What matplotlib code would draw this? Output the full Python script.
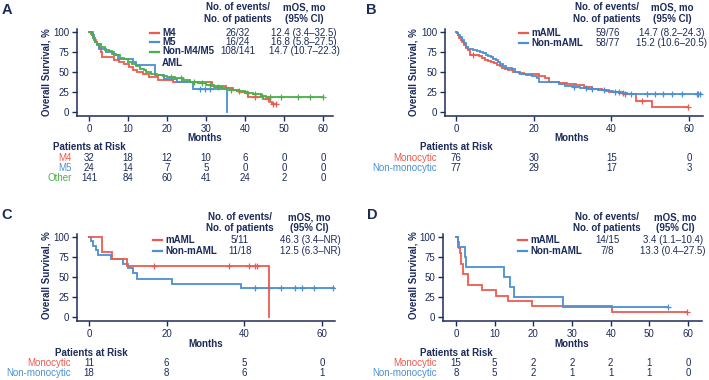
import numpy as np
import matplotlib
matplotlib.use('Agg')
import matplotlib.pyplot as plt
from matplotlib.lines import Line2D
from matplotlib.transforms import blended_transform_factory

plt.rcParams['font.family'] = ['Liberation Sans', 'DejaVu Sans']

W, H = 709, 380
NAVY = '#1C2B5A'
RED = '#EE5A50'
BLUE = '#4A90D2'
GREEN = '#4DAF4A'

# ---------------- Panel A data ----------------
a_m4_t = [0.5, 0.9, 1.3, 1.7, 2.1, 2.5, 3.0, 3.4, 6.3, 7.8, 9.0, 10.2, 11.4, 12.4, 13.8, 15.5,
          17.8, 21.5, 31.5, 35.0, 37.0, 38.5, 40.8, 44.5, 46.4, 46.8]
a_m4_s = [96.9, 93.8, 90.6, 87.5, 84.4, 81.3, 75.0, 68.8, 65.6, 62.5, 59.4, 56.3, 53.1, 50.0, 46.9, 43.8,
          40.6, 37.5, 33.0, 30.0, 27.0, 25.4, 19.0, 16.5, 13.0, 10.5]
a_m4_c = [42.5, 46.0, 47.3, 48.0]
a_m4_end = 48.0

a_m5_t = [0.7, 1.2, 1.6, 2.0, 2.6, 4.3, 6.3, 7.5, 11.4, 12.0, 16.8, 19.3, 22.5, 26.7, 35.3]
a_m5_s = [95.8, 91.7, 87.5, 83.3, 79.2, 75.0, 70.8, 66.7, 62.5, 58.3, 45.8, 41.7, 37.5, 29.2, 0.0]
a_m5_c = [28.5, 29.8, 31.0]
a_m5_end = 35.3

a_oth_t = [1.0, 1.5, 2.0, 3.0, 4.0, 5.0, 6.0, 7.0, 8.0, 9.0, 10.0, 11.0, 12.0, 13.0, 14.0, 14.7,
           16.0, 17.5, 19.0, 20.0, 22.0, 24.0, 26.0, 28.0, 30.0, 32.0, 34.0, 36.0, 38.0, 40.0,
           42.0, 44.0, 45.5]
a_oth_s = [93.0, 88.0, 85.0, 81.0, 78.0, 76.0, 73.0, 71.0, 68.0, 66.0, 63.0, 60.0, 57.0, 54.0, 52.0, 50.0,
           48.0, 46.0, 44.5, 43.5, 42.0, 40.0, 38.0, 36.0, 34.0, 31.5, 29.5, 27.5, 26.0, 24.0,
           22.0, 20.0, 18.2]
a_oth_c = [21.0, 23.5, 27.0, 29.0, 31.0, 33.0, 36.5, 38.5, 40.5, 42.6, 44.3, 46.4, 49.2, 53.5, 56.7, 59.9]
a_oth_end = 59.9

a_groups = ['M4', 'M5', 'Non-M4/M5']
a_events = ['26/32', '16/24', '108/141']
a_mos = ['12.4 (3.4\u201332.5)', '16.8 (5.8\u201327.5)', '14.7 (10.7\u201322.3)']
a_risk_labels = ['M4', 'M5', 'Other']
a_risk_x = [0, 10, 20, 30, 40, 50, 60]
a_risk = [[32, 18, 12, 10, 6, 0, 0],
          [24, 14, 7, 5, 0, 0, 0],
          [141, 84, 60, 41, 24, 2, 0]]

# ---------------- Panel B data ----------------
b_m_t = [0.3, 0.6, 0.9, 1.2, 1.6, 2.0, 2.5, 3.0, 3.6, 6.0, 6.8, 7.5, 8.3, 9.0, 9.8, 10.6, 11.3, 11.9,
         12.6, 13.5, 14.7, 16.2, 17.5, 21.5, 22.8, 24.0, 26.5, 28.5, 31.0, 33.0, 35.0, 37.5, 39.5,
         41.0, 43.0, 46.4, 50.4]
b_m_s = [98.7, 96.0, 93.0, 90.0, 87.0, 84.0, 80.0, 77.0, 71.0, 69.5, 67.0, 65.5, 64.0, 62.5, 61.0, 59.0,
         57.0, 55.5, 54.0, 52.5, 50.0, 48.5, 47.5, 45.5, 43.0, 38.0, 36.5, 35.0, 33.5, 31.5, 29.0,
         27.5, 25.5, 24.5, 23.0, 13.5, 6.7]
b_m_c = [4.3, 42.0, 43.5, 47.8, 59.8]
b_m_end = 59.8

b_n_t = [0.3, 0.6, 1.0, 1.5, 2.0, 2.5, 3.2, 4.5, 5.5, 6.3, 7.0, 7.6, 8.3, 9.0, 9.6, 10.2, 10.8, 11.4,
         12.2, 13.0, 14.3, 15.2, 16.5, 18.0, 19.5, 20.8, 21.5, 26.5, 28.0, 30.0, 32.0, 34.0, 36.5,
         38.5, 40.5, 42.0, 44.0]
b_n_s = [98.7, 96.1, 93.5, 89.6, 85.7, 81.8, 79.2, 77.9, 76.6, 75.3, 74.0, 71.4, 70.1, 68.8, 66.2, 64.9,
         62.3, 59.7, 57.1, 54.5, 53.2, 50.0, 48.1, 46.8, 45.5, 42.9, 37.7, 35.1, 32.5, 31.2, 29.9,
         28.6, 27.3, 26.0, 24.7, 23.4, 22.1]
b_n_c = [30.5, 33.5, 35.0, 38.0, 41.0, 43.0, 45.0, 49.1, 51.2, 53.4, 55.5, 58.1, 62.0, 62.4, 62.8]
b_n_end = 63.0

b_groups = ['mAML', 'Non-mAML']
b_events = ['59/76', '58/77']
b_mos = ['14.7 (8.2\u201324.3)', '15.2 (10.6\u201320.5)']
b_risk_labels = ['Monocytic', 'Non-monocytic']
b_risk_x = [0, 20, 40, 60]
b_risk = [[76, 30, 15, 0], [77, 29, 17, 3]]

# ---------------- Panel C data ----------------
c_m_t = [3.4, 5.9, 9.9, 46.3]
c_m_s = [81.8, 72.7, 63.6, 0.0]
c_m_c = [16.7, 36.1, 41.2, 42.7, 43.3]
c_m_end = 46.3

c_n_t = [0.5, 1.1, 1.7, 2.4, 5.7, 8.8, 10.1, 11.4, 12.3, 21.3, 39.1]
c_n_s = [94.4, 88.9, 83.3, 77.8, 72.2, 66.7, 61.1, 55.6, 47.9, 41.7, 35.9]
c_n_c = [42.7, 46.2, 49.4, 53.0, 54.8, 58.0, 62.9]
c_n_end = 63.0

c_events = ['5/11', '11/18']
c_mos = ['46.3 (3.4\u2013NR)', '12.5 (6.3\u2013NR)']
c_risk_x = [0, 20, 40, 60]
c_risk = [[11, 6, 5, 0], [18, 8, 6, 1]]

# ---------------- Panel D data ----------------
d_m_t = [0.6, 0.9, 1.0, 1.2, 1.4, 1.7, 1.9, 3.2, 6.6, 10.3, 13.5, 19.6, 40.3]
d_m_s = [93.3, 86.7, 80.0, 73.3, 66.7, 60.0, 53.3, 40.0, 33.3, 26.7, 20.0, 13.3, 6.7]
d_m_c = [59.7]
d_m_end = 59.7

d_n_t = [0.4, 2.2, 2.6, 12.3, 14.0, 15.0, 27.6]
d_n_s = [87.5, 75.0, 62.5, 50.0, 37.5, 25.0, 12.5]
d_n_c = [54.8]
d_n_end = 54.8

d_events = ['14/15', '7/8']
d_mos = ['3.4 (1.1\u201310.4)', '13.3 (0.4\u201327.5)']
d_risk_x = [0, 10, 20, 30, 40, 50, 60]
d_risk = [[15, 5, 2, 2, 2, 1, 0], [8, 5, 2, 1, 1, 1, 0]]

yticks = [0, 25, 50, 75, 100]

# ---------------- drawing ----------------
fig = plt.figure(figsize=(W / 100, H / 100), dpi=100)


def fx(x):
    return x / W


def fy(y):
    return 1 - y / H


def T(x, y, s, **kw):
    kw.setdefault('color', NAVY)
    kw.setdefault('fontsize', 7)
    kw.setdefault('va', 'center')
    fig.text(fx(x), fy(y), s, **kw)


def make_ax(l, r, t, b, xlim, xticks):
    ax = fig.add_axes([fx(l), fy(b), (r - l) / W, (b - t) / H])
    ax.set_xlim(*xlim)
    ax.set_ylim(-5, 103.75)
    ax.set_xticks(xticks)
    ax.set_yticks(yticks)
    for sp in ['top', 'right']:
        ax.spines[sp].set_visible(False)
    for sp in ['left', 'bottom']:
        ax.spines[sp].set_color(NAVY)
        ax.spines[sp].set_linewidth(1.1)
    ax.tick_params(direction='out', length=3.5, width=1.0, colors=NAVY, labelsize=7, pad=2)
    ax.patch.set_alpha(0)
    return ax


def km(ax, t, s, cens, end, color, z=2):
    tt = [0] + list(t) + [end]
    ss = [100] + list(s) + [s[-1]]
    ax.step(tt, ss, where='post', color=color, lw=1.3, zorder=z, solid_joinstyle='miter')
    st = np.array([0] + list(t))
    sv = np.array([100] + list(s))
    idx = np.searchsorted(st, np.array(cens), side='right') - 1
    ax.plot(cens, sv[idx], ls='none', marker='+', ms=5, mew=0.9, color=color, zorder=z)


def legend_line(x1, x2, y, color):
    fig.add_artist(Line2D([fx(x1), fx(x2)], [fy(y), fy(y)], transform=fig.transFigure,
                          color=color, lw=1.6))


def risk_row(ax, xs, vals, y, color=NAVY):
    tr = blended_transform_factory(ax.transData, fig.transFigure)
    for xv, v in zip(xs, vals):
        ax.text(xv, fy(y), str(v), transform=tr, ha='center', va='center', fontsize=7,
                color=color, clip_on=False)


# ---------- Panel A ----------
axA = make_ax(77, 333, 29, 116, (-3.08, 62.56), [0, 10, 20, 30, 40, 50, 60])
km(axA, a_m4_t, a_m4_s, a_m4_c, a_m4_end, RED, 2)
km(axA, a_m5_t, a_m5_s, a_m5_c, a_m5_end, BLUE, 3)
km(axA, a_oth_t, a_oth_s, a_oth_c, a_oth_end, GREEN, 4)
T(7, 10, 'A', fontsize=10.5, fontweight='bold', ha='center')
T(238, 7.5, 'No. of events/', fontweight='bold', ha='center')
T(238, 18.5, 'No. of patients', fontweight='bold', ha='center')
T(304, 7.5, 'mOS, mo', fontweight='bold', ha='center')
T(304, 18.5, '(95% CI)', fontweight='bold', ha='center')
for i, (g, c, yy) in enumerate(zip(a_groups, [RED, BLUE, GREEN], [32.5, 42, 51.5])):
    legend_line(150, 159, yy, c)
    T(162, yy, g, fontweight='bold')
    T(238, yy, a_events[i], ha='center')
    T(304, yy, a_mos[i], ha='center')
T(162, 62.5, 'AML', fontweight='bold')
T(47, 72, 'Overall Survival, %', fontweight='bold', rotation=90, ha='center')
T(205, 138, 'Months', fontweight='bold', ha='center')
T(53, 147.5, 'Patients at Risk', fontweight='bold')
for lab, c, vals, yy in zip(a_risk_labels, [RED, BLUE, GREEN], a_risk, [158, 168, 178]):
    T(72, yy, lab, color=c, ha='right')
    risk_row(axA, a_risk_x, vals, yy)

# ---------- Panel B ----------
axB = make_ax(445, 703, 29, 116, (-2.83, 63.6), [0, 20, 40, 60])
km(axB, b_m_t, b_m_s, b_m_c, b_m_end, RED, 2)
km(axB, b_n_t, b_n_s, b_n_c, b_n_end, BLUE, 3)
T(371, 10, 'B', fontsize=10.5, fontweight='bold', ha='center')
T(607, 7.5, 'No. of events/', fontweight='bold', ha='center')
T(607, 18.5, 'No. of patients', fontweight='bold', ha='center')
T(672, 7.5, 'mOS, mo', fontweight='bold', ha='center')
T(672, 18.5, '(95% CI)', fontweight='bold', ha='center')
for i, (g, c, yy) in enumerate(zip(b_groups, [RED, BLUE], [32.5, 43])):
    legend_line(519, 528, yy, c)
    T(531, yy, g, fontweight='bold')
    T(608, yy, b_events[i], ha='center')
    T(672, yy, b_mos[i], ha='center')
T(413, 72, 'Overall Survival, %', fontweight='bold', rotation=90, ha='center')
T(572, 138, 'Months', fontweight='bold', ha='center')
T(420, 147.5, 'Patients at Risk', fontweight='bold')
for lab, c, vals, yy in zip(b_risk_labels, [RED, BLUE], b_risk, [158, 168]):
    T(437, yy, lab, color=c, ha='right')
    risk_row(axB, b_risk_x, vals, yy)

# ---------- Panel C ----------
axC = make_ax(77, 335, 234, 321, (-3.09, 63.3), [0, 20, 40, 60])
km(axC, c_n_t, c_n_s, c_n_c, c_n_end, BLUE, 2)
km(axC, c_m_t, c_m_s, c_m_c, c_m_end, RED, 3)
T(7, 215, 'C', fontsize=10.5, fontweight='bold', ha='center')
T(240, 217, 'No. of events/', fontweight='bold', ha='center')
T(240, 228, 'No. of patients', fontweight='bold', ha='center')
T(309, 217, 'mOS, mo', fontweight='bold', ha='center')
T(309, 228, '(95% CI)', fontweight='bold', ha='center')
for i, (g, c, yy) in enumerate(zip(b_groups, [RED, BLUE], [240, 251])):
    legend_line(153, 162, yy, c)
    T(165, yy, g, fontweight='bold')
    T(240, yy, c_events[i], ha='center')
    T(310, yy, c_mos[i], ha='center')
T(47, 275, 'Overall Survival, %', fontweight='bold', rotation=90, ha='center')
T(206, 344, 'Months', fontweight='bold', ha='center')
T(55, 353, 'Patients at Risk', fontweight='bold')
for lab, c, vals, yy in zip(b_risk_labels, [RED, BLUE], c_risk, [363, 373]):
    T(71, yy, lab, color=c, ha='right')
    risk_row(axC, c_risk_x, vals, yy)

# ---------- Panel D ----------
axD = make_ax(443, 702, 234, 321, (-3.36, 63.6), [0, 10, 20, 30, 40, 50, 60])
km(axD, d_m_t, d_m_s, d_m_c, d_m_end, RED, 2)
km(axD, d_n_t, d_n_s, d_n_c, d_n_end, BLUE, 3)
T(372, 215, 'D', fontsize=10.5, fontweight='bold', ha='center')
T(607, 217, 'No. of events/', fontweight='bold', ha='center')
T(607, 228, 'No. of patients', fontweight='bold', ha='center')
T(675, 217, 'mOS, mo', fontweight='bold', ha='center')
T(675, 228, '(95% CI)', fontweight='bold', ha='center')
for i, (g, c, yy) in enumerate(zip(b_groups, [RED, BLUE], [240, 251])):
    legend_line(518, 527, yy, c)
    T(530, yy, g, fontweight='bold')
    T(607, yy, d_events[i], ha='center')
    T(673, yy, d_mos[i], ha='center')
T(413, 275, 'Overall Survival, %', fontweight='bold', rotation=90, ha='center')
T(572, 344, 'Months', fontweight='bold', ha='center')
T(420, 353, 'Patients at Risk', fontweight='bold')
for lab, c, vals, yy in zip(b_risk_labels, [RED, BLUE], d_risk, [363, 373]):
    T(437, yy, lab, color=c, ha='right')
    risk_row(axD, d_risk_x, vals, yy)

fig.savefig('out.png', dpi=100, facecolor='white')
